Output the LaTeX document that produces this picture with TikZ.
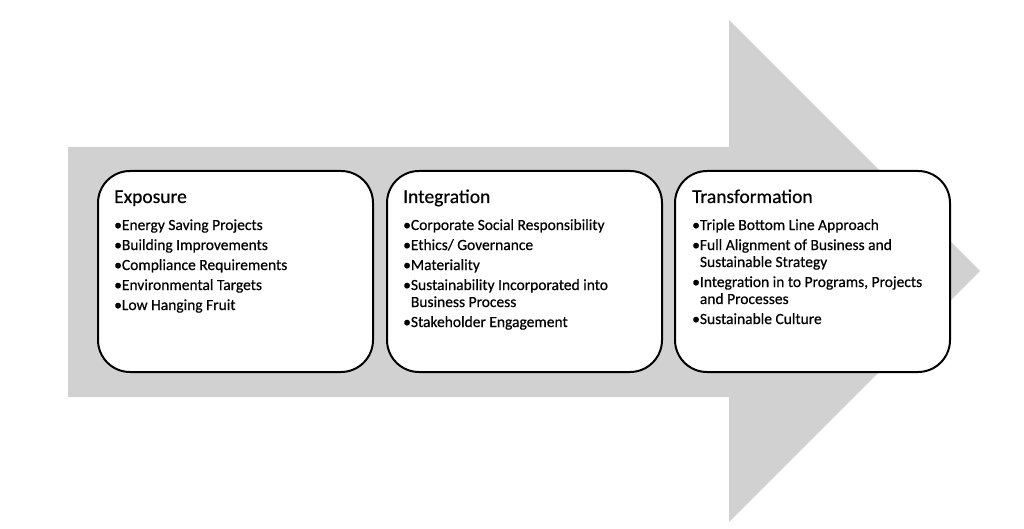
\documentclass[tikz,border=0pt]{standalone}
\usepackage{fontspec}
\setmainfont{Carlito}[FakeBold=0.5]
\begin{document}
\begin{tikzpicture}[x=1pt,y=-1pt,
  stage/.style={draw=black,line width=2pt,fill=white,rounded corners=32pt,minimum width=275pt,minimum height=201pt,inner sep=0pt},
  ttl/.style={anchor=base west,inner sep=0pt,font=\fontsize{19.5}{23}\selectfont},
  items/.style={anchor=base west,inner sep=0pt,font=\fontsize{15.5}{17}\selectfont}]
\definecolor{arrowgray}{RGB}{209,209,209}
\useasboundingbox (0,0) rectangle (1024,529);
\fill[arrowgray] (68,147) -- (729,147) -- (729,20) -- (980,271) -- (729,522) -- (729,397) -- (68,397) -- cycle;
\node[stage] (b1) at (235.5,271.5) {};
\node[stage] (b2) at (524.5,271.5) {};
\node[stage] (b3) at (812.5,271.5) {};
\newcommand{\gap}{\\[3pt]}
\newcommand{\ind}{\hphantom{•}}
\node[ttl] (t1) at (114,203) {Exposure};
\node[items] (l1) at (114,230) {\begin{tabular}[t]{@{}l@{}}•Energy Saving Projects\gap •Building Improvements\gap •Compliance Requirements\gap •Environmental Targets\gap •Low Hanging Fruit\end{tabular}};
\node[ttl] (t2) at (403,203) {Integration};
\node[items] (l2) at (403,230) {\begin{tabular}[t]{@{}l@{}}•Corporate Social Responsibility\gap •Ethics/ Governance\gap •Materiality\gap •Sustainability Incorporated into\\ \ind Business Process\gap •Stakeholder Engagement\end{tabular}};
\node[ttl] (t3) at (692,203) {Transformation};
\node[items] (l3) at (692,230) {\begin{tabular}[t]{@{}l@{}}•Triple Bottom Line Approach\gap •Full Alignment of Business and\\ \ind Sustainable Strategy\gap •Integration in to Programs, Projects\\ \ind and Processes\gap •Sustainable Culture\end{tabular}};
\end{tikzpicture}
\end{document}
